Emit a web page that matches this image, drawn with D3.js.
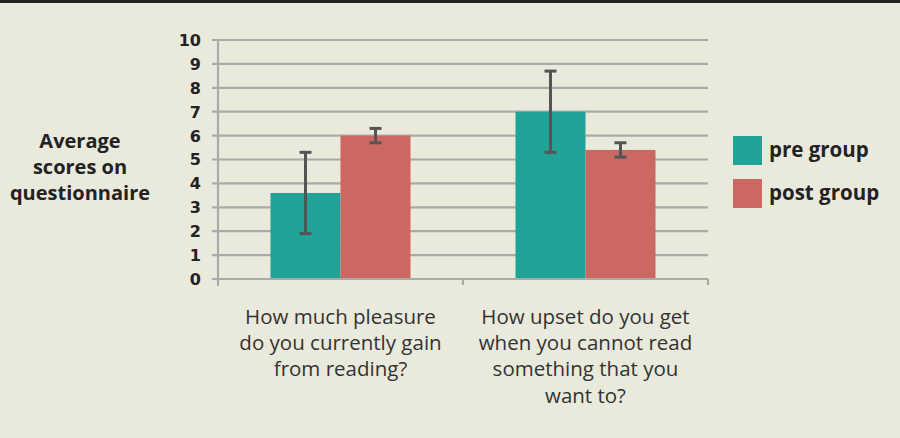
<!DOCTYPE html>
<html><head><meta charset="utf-8">
<script src="https://cdn.jsdelivr.net/npm/d3@7"></script>
<style>
html,body{margin:0;padding:0;background:#e9e9dc;}
svg{display:block;}
</style></head>
<body>
<svg id="chart" width="900" height="438"></svg>
<script>
const categories = [
  ["How much pleasure", "do you currently gain", "from reading?"],
  ["How upset do you get", "when you cannot read", "something that you", "want to?"]
];
const categoryKeys = ["pleasure", "upset"];
const seriesNames = ["pre group", "post group"];
const preValues = [3.6, 7.0];
const postValues = [6.0, 5.4];
const preErrors = [1.7, 1.7];
const postErrors = [0.3, 0.3];
const yTicks = [0,1,2,3,4,5,6,7,8,9,10];
const colors = ["#22a39a", "#cb6862"];

(function(){
const svg = d3.select("#chart");
svg.append("rect").attr("x",0).attr("y",0).attr("width",900).attr("height",438).attr("fill","#e9e9dc");
svg.append("rect").attr("x",0).attr("y",0).attr("width",900).attr("height",3).attr("fill","#222");

const mLeft = 218, mRight = 708, mTop = 40, mBottom = 279;
const y = d3.scaleLinear().domain([0,10]).range([mBottom, mTop]);
const x0 = d3.scaleBand().domain(categoryKeys).range([mLeft, mRight]).paddingInner(0).paddingOuter(0);
const x1 = d3.scaleBand().domain(seriesNames).range([0, x0.bandwidth()]).paddingInner(0).paddingOuter(0.75);

const gridColor = "#aaaaaa";
svg.append("g").selectAll("line").data(yTicks).join("line")
  .attr("x1", mLeft - 6).attr("x2", mRight)
  .attr("y1", d => y(d)).attr("y2", d => y(d))
  .attr("stroke", gridColor).attr("stroke-width", 2.2);
svg.append("line").attr("x1", mLeft).attr("x2", mLeft).attr("y1", mTop - 1).attr("y2", mBottom + 7)
  .attr("stroke", gridColor).attr("stroke-width", 2.2);
svg.append("g").selectAll("line").data(categoryKeys.slice(1).map(k => x0(k)).concat([mRight])).join("line")
  .attr("x1", d => d).attr("x2", d => d).attr("y1", mBottom).attr("y2", mBottom + 6)
  .attr("stroke", gridColor).attr("stroke-width", 2.2);

svg.append("g").selectAll("text").data(yTicks).join("text")
  .attr("x", 201).attr("y", d => y(d)).attr("dy", "0.37em")
  .attr("text-anchor", "end")
  .attr("font-family", "'DejaVu Sans', sans-serif").attr("font-weight", 700)
  .attr("font-size", 16).attr("fill", "#222")
  .text(d => d);

const data = categoryKeys.map((k, i) => ({
  key: k,
  vals: [
    {s: seriesNames[0], v: preValues[i], e: preErrors[i], c: colors[0]},
    {s: seriesNames[1], v: postValues[i], e: postErrors[i], c: colors[1]}
  ]
}));
const groups = svg.append("g").selectAll("g").data(data).join("g")
  .attr("transform", d => `translate(${x0(d.key)},0)`);
groups.selectAll("rect").data(d => d.vals).join("rect")
  .attr("x", d => x1(d.s)).attr("width", x1.bandwidth())
  .attr("y", d => y(d.v)).attr("height", d => y(0) - y(d.v) - 1)
  .attr("fill", d => d.c);

const eb = groups.selectAll("g.err").data(d => d.vals).join("g").attr("class","err");
const ec = "#555555";
eb.append("line")
  .attr("x1", d => x1(d.s) + x1.bandwidth()/2).attr("x2", d => x1(d.s) + x1.bandwidth()/2)
  .attr("y1", d => y(d.v + d.e)).attr("y2", d => y(d.v - d.e))
  .attr("stroke", ec).attr("stroke-width", 3);
eb.selectAll("line.cap").data(d => [{d, t: d.v + d.e}, {d, t: d.v - d.e}]).join("line").attr("class","cap")
  .attr("x1", o => x1(o.d.s) + x1.bandwidth()/2 - 6).attr("x2", o => x1(o.d.s) + x1.bandwidth()/2 + 6)
  .attr("y1", o => y(o.t)).attr("y2", o => y(o.t))
  .attr("stroke", ec).attr("stroke-width", 3);

const catG = svg.append("g").selectAll("text").data(data.map((d,i) => ({key: d.key, lines: categories[i]}))).join("text")
  .attr("x", d => x0(d.key) + x0.bandwidth()/2)
  .attr("y", 324)
  .attr("text-anchor", "middle")
  .attr("font-family", "'Open Sans', sans-serif").attr("font-size", 20.5).attr("fill", "#333");
catG.selectAll("tspan").data(d => d.lines.map(l => ({l, x: x0(d.key) + x0.bandwidth()/2}))).join("tspan")
  .attr("x", o => o.x).attr("dy", (o, i) => i === 0 ? 0 : 26.2)
  .text(o => o.l);

const yTitle = ["Average", "scores on", "questionnaire"];
svg.append("text").attr("text-anchor", "middle")
  .attr("font-family", "'Open Sans', sans-serif").attr("font-weight", 700)
  .attr("font-size", 20).attr("fill", "#222")
  .attr("y", 148)
  .selectAll("tspan").data(yTitle).join("tspan")
  .attr("x", 80).attr("dy", (d, i) => i === 0 ? 0 : 26)
  .text(d => d);

const lg = svg.append("g").selectAll("g").data(seriesNames).join("g")
  .attr("transform", (d, i) => `translate(733,${136 + i*43})`);
lg.append("rect").attr("width", 29).attr("height", 29).attr("fill", (d, i) => colors[i]);
lg.append("text").attr("x", 36).attr("y", 14.5).attr("dy", "0.32em")
  .attr("font-family", "'Open Sans', sans-serif").attr("font-weight", 700)
  .attr("font-size", 20.5).attr("fill", "#222")
  .text(d => d);
})();
</script>
</body></html>
